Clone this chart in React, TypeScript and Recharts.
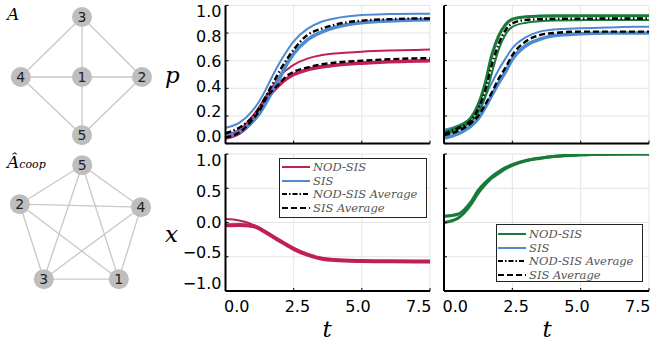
import React from "react";
import { CartesianGrid, Line, LineChart, Scatter, ScatterChart, XAxis, YAxis } from "recharts";

// time samples shared by every panel
const tValues = [0, 0.5, 1, 1.25, 1.5, 1.75, 2, 2.25, 2.5, 3, 3.5, 4, 5, 6, 7, 7.5];

// p(t) on graph A (NOD-SIS red, SIS blue)
const pRedHubA = [0.065, 0.1, 0.2, 0.27, 0.35, 0.42, 0.49, 0.535, 0.57, 0.615, 0.64, 0.652, 0.665, 0.673, 0.678, 0.68];
const pRedRestA = [0.04, 0.075, 0.165, 0.23, 0.32, 0.38, 0.43, 0.47, 0.5, 0.535, 0.555, 0.567, 0.582, 0.592, 0.598, 0.6];
const pBlueHubA = [0.115, 0.15, 0.24, 0.31, 0.4, 0.5, 0.59, 0.67, 0.74, 0.83, 0.88, 0.905, 0.93, 0.937, 0.94, 0.94];
const pBlueRestA = [0.05, 0.085, 0.16, 0.22, 0.3, 0.39, 0.48, 0.575, 0.65, 0.75, 0.805, 0.84, 0.875, 0.888, 0.895, 0.897];
const pNodAvgA = [0.075, 0.115, 0.195, 0.26, 0.35, 0.44, 0.53, 0.61, 0.68, 0.785, 0.83, 0.86, 0.89, 0.9, 0.905, 0.905];
const pSisAvgA = [0.045, 0.08, 0.175, 0.24, 0.33, 0.39, 0.44, 0.49, 0.52, 0.55, 0.573, 0.585, 0.6, 0.61, 0.617, 0.618];

// p(t) on graph A_coop (NOD-SIS green, SIS blue)
const pGreenHighC = [0.08, 0.12, 0.19, 0.28, 0.43, 0.64, 0.78, 0.86, 0.9, 0.918, 0.922, 0.924, 0.925, 0.925, 0.925, 0.925];
const pGreenLowC = [0.06, 0.1, 0.16, 0.22, 0.33, 0.51, 0.68, 0.79, 0.845, 0.875, 0.885, 0.89, 0.893, 0.895, 0.895, 0.895];
const pBlueHighC = [0.1, 0.13, 0.19, 0.25, 0.34, 0.44, 0.535, 0.615, 0.69, 0.77, 0.81, 0.825, 0.835, 0.84, 0.845, 0.845];
const pBlueLowC = [0.04, 0.07, 0.13, 0.18, 0.26, 0.35, 0.44, 0.52, 0.61, 0.71, 0.755, 0.78, 0.795, 0.8, 0.8, 0.8];
const pNodAvgC = [0.07, 0.11, 0.17, 0.25, 0.38, 0.57, 0.72, 0.82, 0.87, 0.895, 0.9, 0.902, 0.904, 0.905, 0.905, 0.905];
const pSisAvgC = [0.06, 0.09, 0.15, 0.2, 0.28, 0.37, 0.47, 0.55, 0.64, 0.74, 0.785, 0.8, 0.81, 0.81, 0.81, 0.81];

// opinions x(t)
const xRedHubA = [0.05, 0.03, -0.03, -0.08, -0.14, -0.2, -0.26, -0.32, -0.38, -0.465, -0.52, -0.545, -0.56, -0.565, -0.567, -0.567];
const xRedRestA = [-0.04, -0.035, -0.05, -0.09, -0.15, -0.21, -0.27, -0.33, -0.385, -0.47, -0.525, -0.548, -0.562, -0.567, -0.568, -0.568];
const xGreenHighC = [0.09, 0.12, 0.31, 0.47, 0.58, 0.67, 0.74, 0.8, 0.845, 0.905, 0.94, 0.965, 0.99, 0.998, 1.0, 1.0];
const xGreenLowC = [0.0, 0.06, 0.27, 0.43, 0.55, 0.65, 0.72, 0.785, 0.835, 0.9, 0.935, 0.962, 0.988, 0.997, 1.0, 1.0];

const tTicks = [0, 2.5, 5, 7.5];
const pTicks = [0, 0.2, 0.4, 0.6, 0.8, 1];
const xTicks = [-1, -0.5, 0, 0.5, 1];

// network layouts (graph units)
const nodeIds = [1, 2, 3, 4, 5];
const layoutAX = [0, 1, 0, -1.02, 0];
const layoutAY = [0, 0, 1, 0, -0.97];
const edgesA = [[1, 2], [1, 3], [1, 4], [1, 5], [2, 3], [2, 5], [3, 4], [4, 5]];
const layoutCX = [0.63, -1.02, -0.62, 1.0, 0.02];
const layoutCY = [-0.62, 0.63, -0.62, 0.58, 1.28];
const edgesC = [[1, 2], [1, 3], [1, 4], [1, 5], [2, 3], [2, 4], [2, 5], [3, 4], [3, 5], [4, 5]];

const RED = "#c01f5a";
const BLUE = "#4d8acf";
const GREEN = "#1a7a3a";
const GRID = "#e4e4e4";
const EDGE = "#c8c8c8";
const DASHDOT = "6 2.5 1.5 2.5";
const DASHED = "6 3";

type Series = { key: string; values: number[]; color: string; width: number; dash?: string };

type PanelProps = {
  left: number;
  top: number;
  width: number;
  height: number;
  margin: { top: number; right: number; bottom: number; left: number };
  yAxisWidth: number;
  xAxisHeight: number;
  yDomain: [number, number];
  yTicks: number[];
  series: Series[];
  xLabels: boolean;
  yLabels: boolean;
  xCenter: number;
  yCenter: number;
};

function fmt(v: number) {
  return v < 0 ? "\u2212" + Math.abs(v).toFixed(1) : v.toFixed(1);
}

function Panel(p: PanelProps) {
  const data = tValues.map((t, i) => {
    const row: Record<string, number> = { t };
    p.series.forEach((s) => {
      row[s.key] = s.values[i];
    });
    return row;
  });

  const xTick = (props: any) => {
    const { x, y, payload } = props;
    return (
      <g>
        <line x1={x} x2={x} y1={y} y2={y - 3} stroke="#000" />
        {p.xLabels && (
          <text x={p.xCenter + (x - p.xCenter) * 0.89} y={y + 21} textAnchor="middle" fontSize={16} fontFamily="DejaVu Sans" fill="#000">
            {fmt(payload.value)}
          </text>
        )}
      </g>
    );
  };

  const yTick = (props: any) => {
    const { x, y, payload } = props;
    return (
      <g>
        <line x1={x} x2={x + 3} y1={y} y2={y} stroke="#000" />
        {p.yLabels && (
          <text x={x - 4} y={p.yCenter + (y - p.yCenter) * 0.9 + 5} textAnchor="end" fontSize={16} fontFamily="DejaVu Sans" fill="#000">
            {fmt(payload.value)}
          </text>
        )}
      </g>
    );
  };

  return (
    <div style={{ position: "absolute", left: p.left, top: p.top }}>
      <LineChart width={p.width} height={p.height} data={data} margin={p.margin}>
        <CartesianGrid stroke={GRID} />
        {p.series.map((s) => (
          <Line
            key={s.key}
            type="monotone"
            dataKey={s.key}
            stroke={s.color}
            strokeWidth={s.width}
            strokeDasharray={s.dash}
            dot={false}
            isAnimationActive={false}
          />
        ))}
        <XAxis
          type="number"
          dataKey="t"
          domain={[0, 7.5]}
          ticks={tTicks}
          interval={0}
          height={p.xAxisHeight}
          tickSize={0}
          tickMargin={0}
          tick={xTick}
          axisLine={{ stroke: "#000", strokeWidth: 2 }}
          allowDataOverflow
        />
        <YAxis
          type="number"
          domain={p.yDomain}
          ticks={p.yTicks}
          interval={0}
          width={p.yAxisWidth}
          tickSize={0}
          tickMargin={0}
          tick={yTick}
          axisLine={{ stroke: "#000", strokeWidth: 2 }}
          allowDataOverflow
        />
      </LineChart>
    </div>
  );
}

function NodeShape(props: any) {
  const { cx, cy, payload } = props;
  return (
    <g>
      <circle cx={cx} cy={cy} r={10} fill="#bebebe" />
      <text x={cx} y={cy + 5} textAnchor="middle" fontSize={14} fontFamily="DejaVu Sans" fill="#222">
        {payload.id}
      </text>
    </g>
  );
}

function EmptyShape() {
  return <g />;
}

type NetworkProps = {
  top: number;
  xs: number[];
  ys: number[];
  edges: number[][];
  xDomain: [number, number];
  yDomain: [number, number];
};

function Network({ top, xs, ys, edges, xDomain, yDomain }: NetworkProps) {
  const nodes = nodeIds.map((id, i) => ({ id, x: xs[i], y: ys[i] }));
  return (
    <div style={{ position: "absolute", left: 0, top }}>
      <ScatterChart width={170} height={150} margin={{ top: 0, right: 0, bottom: 0, left: 0 }}>
        <XAxis type="number" dataKey="x" domain={xDomain} hide height={0} allowDataOverflow />
        <YAxis type="number" dataKey="y" domain={yDomain} hide width={0} allowDataOverflow />
        {edges.map(([a, b], k) => (
          <Scatter
            key={k}
            data={[nodes[a - 1], nodes[b - 1]]}
            line={{ stroke: EDGE, strokeWidth: 1.3 }}
            lineType="joint"
            shape={EmptyShape}
            isAnimationActive={false}
          />
        ))}
        <Scatter data={nodes} shape={NodeShape} isAnimationActive={false} />
      </ScatterChart>
    </div>
  );
}

type LegendProps = { left: number; top: number; width: number; height: number; nodColor: string; firstRow: number; step: number; sampleLeft: number };

function LegendBox({ left, top, width, height, nodColor, firstRow, step, sampleLeft }: LegendProps) {
  const items = [
    { label: "NOD-SIS", color: nodColor, dash: undefined as string | undefined },
    { label: "SIS", color: BLUE, dash: undefined },
    { label: "NOD-SIS Average", color: "#000", dash: "5 2 1.5 2" },
    { label: "SIS Average", color: "#000", dash: "6 3" },
  ];
  return (
    <div style={{ position: "absolute", left, top, width, height, border: "1px solid #222", background: "#fff", boxSizing: "border-box" }}>
      {items.map((it, i) => (
        <div key={it.label} style={{ position: "absolute", left: sampleLeft, top: firstRow + i * step - 7, height: 14, display: "flex", alignItems: "center", whiteSpace: "nowrap" }}>
          <svg width={28} height={14}>
            <line x1={0} x2={28} y1={7} y2={7} stroke={it.color} strokeWidth={2} strokeDasharray={it.dash} />
          </svg>
          <span style={{ marginLeft: 3, fontFamily: "DejaVu Serif", fontStyle: "italic", fontSize: 11.5, color: "#555" }}>{it.label}</span>
        </div>
      ))}
    </div>
  );
}

export default function App() {
  const serif = { fontFamily: "DejaVu Serif", fontStyle: "italic" as const };
  return (
    <div style={{ position: "absolute", left: 0, top: 0, width: 653, height: 346, background: "#fff", overflow: "hidden" }}>
      <Network top={0} xs={layoutAX} ys={layoutAY} edges={edgesA} xDomain={[-1.367, 1.467]} yDomain={[-1.217, 1.283]} />
      <Network top={150} xs={layoutCX} ys={layoutCY} edges={edgesC} xDomain={[-1.35, 1.483]} yDomain={[-0.967, 1.533]} />

      <Panel
        left={160}
        top={0}
        width={275}
        height={150}
        margin={{ top: 5.4, right: 5, bottom: 5.4, left: 20.5 }}
        yAxisWidth={45}
        xAxisHeight={1}
        yDomain={[0, 1]}
        yTicks={pTicks}
        xLabels={false}
        yLabels={true}
        xCenter={167.75}
        yCenter={74.5}
        series={[
          { key: "redRest", values: pRedRestA, color: RED, width: 3.6 },
          { key: "redHub", values: pRedHubA, color: RED, width: 2 },
          { key: "blueRest", values: pBlueRestA, color: BLUE, width: 3.6 },
          { key: "blueHub", values: pBlueHubA, color: BLUE, width: 2 },
          { key: "nodAvg", values: pNodAvgA, color: "#000", width: 2.4, dash: DASHDOT },
          { key: "sisAvg", values: pSisAvgA, color: "#000", width: 2.4, dash: DASHED },
        ]}
      />
      <Panel
        left={430}
        top={0}
        width={223}
        height={150}
        margin={{ top: 5.4, right: 4, bottom: 5.4, left: 13 }}
        yAxisWidth={1}
        xAxisHeight={1}
        yDomain={[0, 1]}
        yTicks={pTicks}
        xLabels={false}
        yLabels={false}
        xCenter={116.5}
        yCenter={74.5}
        series={[
          { key: "blueLow", values: pBlueLowC, color: BLUE, width: 3.6 },
          { key: "blueHigh", values: pBlueHighC, color: BLUE, width: 2 },
          { key: "greenHigh", values: pGreenHighC, color: GREEN, width: 3.2 },
          { key: "greenLow", values: pGreenLowC, color: GREEN, width: 2 },
          { key: "nodAvg", values: pNodAvgC, color: "#000", width: 2.4, dash: DASHDOT },
          { key: "sisAvg", values: pSisAvgC, color: "#000", width: 2.4, dash: DASHED },
        ]}
      />
      <Panel
        left={160}
        top={150}
        width={275}
        height={196}
        margin={{ top: 4, right: 5, bottom: 25, left: 20.5 }}
        yAxisWidth={45}
        xAxisHeight={30}
        yDomain={[-1, 1]}
        yTicks={xTicks}
        xLabels={true}
        yLabels={true}
        xCenter={167.75}
        yCenter={72.5}
        series={[
          { key: "redRest", values: xRedRestA, color: RED, width: 4 },
          { key: "redHub", values: xRedHubA, color: RED, width: 2 },
        ]}
      />
      <Panel
        left={430}
        top={150}
        width={223}
        height={196}
        margin={{ top: 4, right: 4, bottom: 25, left: 13 }}
        yAxisWidth={1}
        xAxisHeight={30}
        yDomain={[-1, 1]}
        yTicks={xTicks}
        xLabels={true}
        yLabels={false}
        xCenter={116.5}
        yCenter={72.5}
        series={[
          { key: "greenHigh", values: xGreenHighC, color: GREEN, width: 3 },
          { key: "greenLow", values: xGreenLowC, color: GREEN, width: 3 },
        ]}
      />

      <LegendBox left={279} top={158} width={148} height={60} nodColor={RED} firstRow={8} step={13.7} sampleLeft={2} />
      <LegendBox left={496} top={224} width={147} height={58} nodColor={GREEN} firstRow={9} step={13.7} sampleLeft={1} />

      <svg width={653} height={346} style={{ position: "absolute", left: 0, top: 0, pointerEvents: "none" }}>
        <text x={7} y={20} fontSize={17} {...serif} fill="#000">A</text>
        <text x={7} y={168} fontSize={17} {...serif} fill="#000">
          Â<tspan fontSize={11} dy={0}>coop</tspan>
        </text>
        <text x={165} y={83} fontSize={23} {...serif} fill="#000">p</text>
        <text x={165} y={242} fontSize={23} {...serif} fill="#000">x</text>
        <text x={327} y={337} fontSize={23} {...serif} fill="#000" textAnchor="middle">t</text>
        <text x={547} y={337} fontSize={23} {...serif} fill="#000" textAnchor="middle">t</text>
      </svg>
    </div>
  );
}
